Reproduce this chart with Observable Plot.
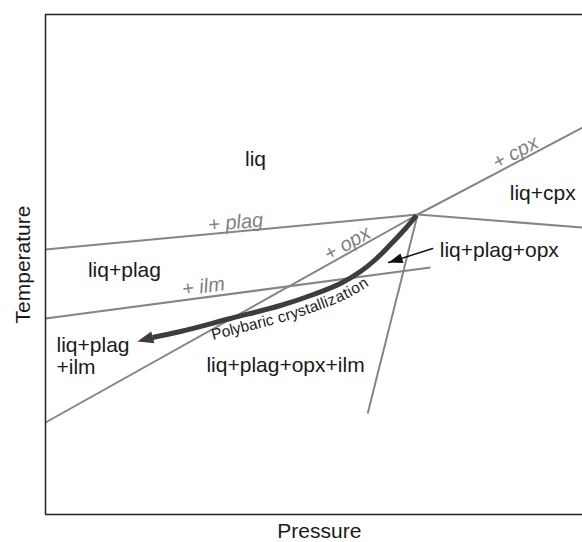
<!DOCTYPE html>
<html>
<head>
<meta charset="utf-8">
<script src="https://cdn.jsdelivr.net/npm/d3@7"></script>
<script src="https://cdn.jsdelivr.net/npm/@observablehq/plot@0.6"></script>
<style>
  html, body { margin: 0; padding: 0; background: #fff; }
</style>
</head>
<body>
<div id="chart"></div>
<script>
// ---- data (arbitrary pressure / temperature units, 0–100) ----
const triplePoint = [69.3, 60.0];

const boundaryNames = ["plag", "upper right", "cpx", "opx", "ilm", "steep"];
const boundaryStart = [[0, 53.0], triplePoint, triplePoint, [0, 18.4], [0, 39.2], triplePoint];
const boundaryEnd   = [triplePoint, [100, 57.4], [100, 77.4], triplePoint, [71.7, 49.4], [60.0, 20.2]];

// polybaric crystallization path (left → right), arrow tip at the low-pressure end
const pathP = [19.93, 25.14, 34.45, 43.76, 49.91, 54.93, 58.66, 61.45, 64.25, 67.04, 69.09];
const pathT = [35.4, 36.6, 39.2, 41.8, 44.0, 46.2, 48.6, 51.0, 54.0, 57.2, 59.8];
const pathTip = [17.1, 34.6];

// callout arrow for "liq+plag+opx"
const calloutStart = [72.1, 53.2];
const calloutTip = [63.9, 50.4];

const fieldLabels = ["liq", "liq+plag", "liq+cpx", "liq+plag+opx", "liq+plag+opx+ilm"];
const fieldP = [39.1, 14.7, 92.6, 84.5, 44.7];
const fieldT = [71.0, 48.8, 64.2, 52.8, 29.8];

const fieldLabelLeft = ["liq+plag\n+ilm"];
const fieldLeftP = [2.05];
const fieldLeftT = [31.8];

const phaseLabels = ["+ plag", "+ ilm", "+ opx", "+ cpx"];
const phaseP = [35.4, 29.4, 56.2, 87.5];
const phaseT = [58.4, 45.6, 54.2, 72.4];
const phaseAngle = [-5.4, -7.5, -29.3, -27.8];

const pathLabel = "Polybaric crystallization";
const xLabel = "Pressure";
const yLabel = "Temperature";

// ---- tables built from the arrays ----
const boundaries = boundaryNames.flatMap((name, i) => [
  {name, p: boundaryStart[i][0], t: boundaryStart[i][1]},
  {name, p: boundaryEnd[i][0], t: boundaryEnd[i][1]}
]);
const crystPath = pathP.map((p, i) => ({p, t: pathT[i]}));
const callout = [{p: calloutStart[0], t: calloutStart[1]}, {p: calloutTip[0], t: calloutTip[1]}];
const fields = fieldLabels.map((label, i) => ({label, p: fieldP[i], t: fieldT[i]}));
const fieldsLeft = fieldLabelLeft.map((label, i) => ({label, p: fieldLeftP[i], t: fieldLeftT[i]}));
const phases = phaseLabels.map((label, i) => ({label, p: phaseP[i], t: phaseT[i], a: phaseAngle[i]}));

// arrowhead symbol (tip at the anchor point), rotated in screen space
function arrowhead(angleDeg, widthRatio) {
  const a = angleDeg * Math.PI / 180, c = Math.cos(a), s = Math.sin(a);
  return {
    draw(ctx, size) {
      const L = Math.sqrt(size / Math.PI), w = L * widthRatio;
      const pts = [[0, 0], [-w, L], [w, L]].map(([x, y]) => [x * c - y * s, x * s + y * c]);
      ctx.moveTo(pts[0][0], pts[0][1]);
      ctx.lineTo(pts[1][0], pts[1][1]);
      ctx.lineTo(pts[2][0], pts[2][1]);
      ctx.closePath();
    }
  };
}

const font = "Liberation Sans, Arial, Helvetica, sans-serif";

const svg = Plot.plot({
  width: 582,
  height: 542,
  marginLeft: 45,
  marginTop: 14,
  marginRight: 0,
  marginBottom: 28,
  style: {fontFamily: font, background: "#fff"},
  x: {domain: [0, 100], axis: null},
  y: {domain: [0, 100], axis: null},
  marks: [
    Plot.line(boundaries, {x: "p", y: "t", z: "name", stroke: "#858585", strokeWidth: 2, strokeLinecap: "butt"}),
    Plot.line(crystPath, {x: "p", y: "t", curve: "catmull-rom", stroke: "#3d3d3d", strokeWidth: 5, strokeLinecap: "butt"}),
    Plot.dot([{p: pathTip[0], t: pathTip[1]}], {x: "p", y: "t", r: 16, symbol: arrowhead(-105, 0.38), fill: "#3d3d3d", stroke: "none"}),
    Plot.line(callout, {x: "p", y: "t", stroke: "#111", strokeWidth: 1.5}),
    Plot.dot([callout[1]], {x: "p", y: "t", r: 14, symbol: arrowhead(-107.6, 0.36), fill: "#111", stroke: "none"}),
    Plot.ruleY([0, 100], {stroke: "#222", strokeWidth: 1.5}),
    Plot.ruleX([0], {stroke: "#222", strokeWidth: 1.5}),
    Plot.text(fields, {x: "p", y: "t", text: "label", fontSize: 21, fill: "#1a1a1a", fontFamily: font}),
    Plot.text(fieldsLeft, {x: "p", y: "t", text: "label", fontSize: 21, fill: "#1a1a1a", textAnchor: "start", lineHeight: 1.05, fontFamily: font}),
    Plot.text(phases, {x: "p", y: "t", text: "label", rotate: "a", fontSize: 20, fontStyle: "italic", fill: "#808080", fontFamily: font}),
    Plot.text([xLabel], {x: 51.0, y: -3.4, text: d => d, fontSize: 21, fill: "#1a1a1a", fontFamily: font, clip: false}),
    Plot.text([yLabel], {x: -4.2, y: 50, text: d => d, rotate: -90, fontSize: 21, fill: "#1a1a1a", fontFamily: font, clip: false})
  ]
});

// text that follows the crystallization path
const curvePath = svg.querySelector('g[stroke-width="5"] path');
if (curvePath) {
  curvePath.setAttribute("id", "cryst-path");
  const ns = "http://www.w3.org/2000/svg";
  const txt = document.createElementNS(ns, "text");
  txt.setAttribute("font-family", font);
  txt.setAttribute("font-size", "15.5");
  txt.setAttribute("text-anchor", "start");
  txt.setAttribute("fill", "#222");
  txt.setAttribute("dy", "17");
  const tp = document.createElementNS(ns, "textPath");
  tp.setAttribute("href", "#cryst-path");
  tp.setAttributeNS("http://www.w3.org/1999/xlink", "xlink:href", "#cryst-path");
  tp.setAttribute("startOffset", "58");
  tp.textContent = pathLabel;
  txt.appendChild(tp);
  svg.appendChild(txt);
}

document.getElementById("chart").appendChild(svg);
</script>
</body>
</html>
